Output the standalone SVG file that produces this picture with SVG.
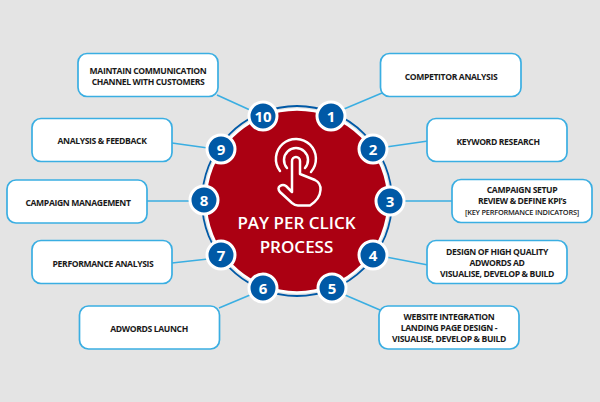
<svg xmlns="http://www.w3.org/2000/svg" width="600" height="402" viewBox="0 0 600 402">
<style>
.box{fill:#fff;stroke:#3aaee2;stroke-width:1.7}
.conn{stroke:#3aaee2;stroke-width:1.6;fill:none}
.lbl{font-family:"Open Sans","Liberation Sans",sans-serif;font-weight:700;font-size:8.6px;letter-spacing:-.36px;fill:#1a1a1a;text-anchor:middle}
.small{font-size:7.4px;letter-spacing:-.22px;font-weight:600}
.badge{fill:#0059a6;stroke:#fff;stroke-width:3}
.num{font-family:"Open Sans","Liberation Sans",sans-serif;font-weight:700;font-size:15px;fill:#fff;text-anchor:middle}
.title{font-family:"Open Sans","Liberation Sans",sans-serif;font-weight:600;font-size:17px;fill:#fff;text-anchor:middle}
.ic{fill:none;stroke:#fff;stroke-width:2.5;stroke-linejoin:round;stroke-linecap:round}
</style>
<rect width="600" height="402" fill="#e4e4e4"/>
<g id="connectors">
<line class="conn" x1="344" y1="109" x2="382" y2="93"/>
<line class="conn" x1="386" y1="147" x2="428" y2="141"/>
<line class="conn" x1="403" y1="201" x2="452" y2="201"/>
<line class="conn" x1="386" y1="257" x2="428" y2="265"/>
<line class="conn" x1="345" y1="295" x2="380" y2="310"/>
<line class="conn" x1="250" y1="295" x2="219" y2="308"/>
<line class="conn" x1="208" y1="259" x2="172" y2="263"/>
<line class="conn" x1="191" y1="201" x2="147" y2="201"/>
<line class="conn" x1="208" y1="148" x2="172" y2="143"/>
<line class="conn" x1="250" y1="110" x2="217" y2="95"/>
</g>
<g id="hub">
<circle cx="297" cy="201" r="95" fill="none" stroke="#0059a6" stroke-width="1.8"/>
<circle cx="297" cy="201" r="91.500" fill="#ab0012" stroke="#fff" stroke-width="2.600"/>
<g id="hand-icon">
<path class="ic" d="M280 171A20 20 0 1 1 311 172"/>
<path class="ic" d="M287 168A12 12 0 1 1 305 168"/>
<path class="ic" d="M292 192V161A4 4 0 0 1 300 161V174L315 180Q321 183 320.500 190Q320 199 310 205.500H298Q295 205.500 292 203L280 192Q277 188 280 186Q283 184 286 186Z"/>
</g>
<text class="title" x="296.500" y="229">PAY PER CLICK</text>
<text class="title" x="296.500" y="253">PROCESS</text>
</g>
<g id="n1"><rect class="box" x="380.500" y="53.500" width="140.500" height="43" rx="9"/><text class="lbl" x="451" y="79.500">COMPETITOR ANALYSIS</text><circle class="badge" cx="331" cy="116" r="14"/><text class="num" x="331" y="121.500">1</text></g>
<g id="n2"><rect class="box" x="427" y="118.500" width="140" height="43" rx="9"/><text class="lbl" x="498" y="144.500">KEYWORD RESEARCH</text><circle class="badge" cx="373" cy="149" r="14"/><text class="num" x="373" y="154.500">2</text></g>
<g id="n3"><rect class="box" x="452" y="179.500" width="140" height="43" rx="9"/><text class="lbl" x="522" y="193">CAMPAIGN SETUP</text><text class="lbl" x="522" y="204">REVIEW &amp; DEFINE KPI’s</text><text class="lbl small" x="522" y="215">[KEY PERFORMANCE INDICATORS]</text><circle class="badge" cx="390" cy="201" r="14"/><text class="num" x="390" y="206.500">3</text></g>
<g id="n4"><rect class="box" x="427" y="240.500" width="140" height="43" rx="9"/><text class="lbl" x="497" y="255">DESIGN OF HIGH QUALITY</text><text class="lbl" x="497" y="266">ADWORDS AD</text><text class="lbl" x="497" y="277">VISUALISE, DEVELOP &amp; BUILD</text><circle class="badge" cx="373" cy="255" r="14"/><text class="num" x="373" y="260.500">4</text></g>
<g id="n5"><rect class="box" x="379" y="306" width="140" height="43" rx="9"/><text class="lbl" x="449" y="320">WEBSITE INTEGRATION</text><text class="lbl" x="449" y="331">LANDING PAGE DESIGN -</text><text class="lbl" x="449" y="342">VISUALISE, DEVELOP &amp; BUILD</text><circle class="badge" cx="332" cy="288" r="14"/><text class="num" x="332" y="293.500">5</text></g>
<g id="n6"><rect class="box" x="79.500" y="306" width="140" height="43" rx="9"/><text class="lbl" x="149" y="332">ADWORDS LAUNCH</text><circle class="badge" cx="263" cy="288" r="14"/><text class="num" x="263" y="293.500">6</text></g>
<g id="n7"><rect class="box" x="32" y="240.500" width="140" height="43" rx="9"/><text class="lbl" x="103" y="267">PERFORMANCE ANALYSIS</text><circle class="badge" cx="221" cy="255" r="14"/><text class="num" x="221" y="260.500">7</text></g>
<g id="n8"><rect class="box" x="7" y="180" width="140" height="43" rx="9"/><text class="lbl" x="78" y="206">CAMPAIGN MANAGEMENT</text><circle class="badge" cx="204" cy="200" r="14"/><text class="num" x="204" y="205.500">8</text></g>
<g id="n9"><rect class="box" x="32" y="118.500" width="140" height="43" rx="9"/><text class="lbl" x="102" y="144">ANALYSIS &amp; FEEDBACK</text><circle class="badge" cx="221" cy="149" r="14"/><text class="num" x="221" y="154.500">9</text></g>
<g id="n10"><rect class="box" x="78" y="53.500" width="140" height="43" rx="9"/><text class="lbl" x="148" y="74">MAINTAIN COMMUNICATION</text><text class="lbl" x="148" y="85">CHANNEL WITH CUSTOMERS</text><circle class="badge" cx="263" cy="116" r="14"/><text class="num" x="263" y="121.500">10</text></g>
</svg>
